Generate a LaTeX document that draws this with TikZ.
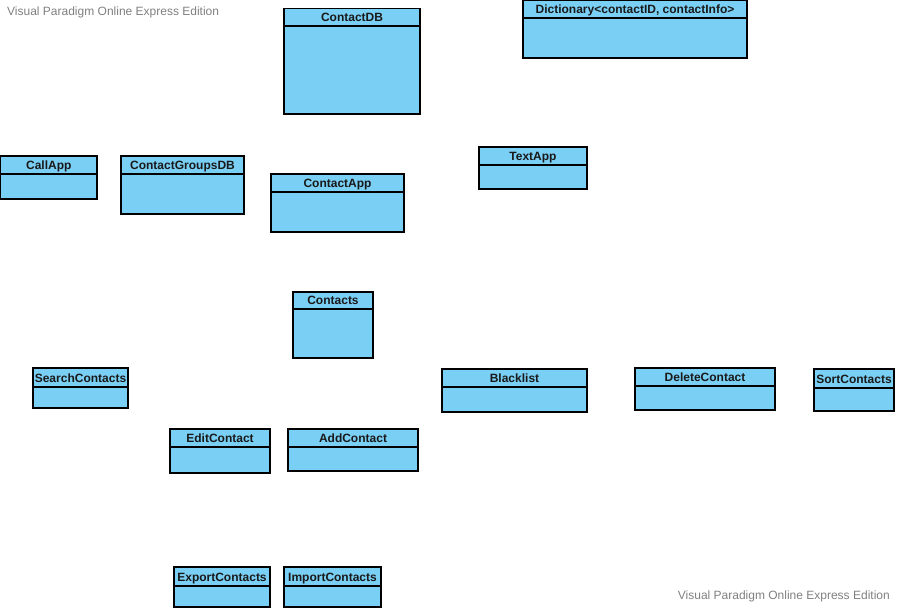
\documentclass[tikz,border=0pt]{standalone}
\usepackage{fontspec}
\setmainfont{Liberation Sans}
\definecolor{classfill}{RGB}{122,207,245}
\definecolor{stamp}{RGB}{128,128,128}
\definecolor{titleink}{RGB}{25,25,25}
\tikzset{
  classframe/.style={draw=black, line width=1.15pt, fill=classfill},
  classrule/.style={draw=black, line width=1.15pt},
  classtitle/.style={anchor=base, inner sep=0pt, text=titleink,
    font=\bfseries\fontsize{12}{14}\selectfont},
  stamptext/.style={inner sep=0pt, text=stamp, font=\fontsize{12}{14}\selectfont}
}
% \umlclassbox{name}{left}{top}{right}{header line}{bottom}{title}
\newcommand\umlclassbox[7]{%
  \path[classframe] (#2,#3) rectangle (#4,#6);
  \draw[classrule] (#2,#5) -- (#4,#5);
  \node[classtitle] (#1) at ({(#2+#4)/2},{#5-4.5}) {#7};
}
\begin{document}
\begin{tikzpicture}[x=1pt,y=-1pt]
\useasboundingbox (0,0) rectangle (897,610);

\umlclassbox{contactdb}{284}{8.5}{420}{26}{114}{ContactDB}
\umlclassbox{dictionary}{523}{0.6}{747}{18}{58}{Dictionary<contactID, contactInfo>}
\umlclassbox{callapp}{0.6}{156}{97}{174}{199}{CallApp}
\umlclassbox{groupsdb}{121}{156}{244}{174}{214}{ContactGroupsDB}
\umlclassbox{contactapp}{271}{174}{404}{192}{232}{ContactApp}
\umlclassbox{textapp}{479}{147}{587}{165}{189}{TextApp}
\umlclassbox{contacts}{293}{292}{373}{309}{358}{Contacts}
\umlclassbox{search}{33}{368}{128}{387}{408}{SearchContacts}
\umlclassbox{blacklist}{442}{369}{587}{387}{412}{Blacklist}
\umlclassbox{delete}{635}{368}{775}{386}{410}{DeleteContact}
\umlclassbox{sort}{814}{369}{894}{388}{411}{SortContacts}
\umlclassbox{edit}{170}{429}{270}{447}{473}{EditContact}
\umlclassbox{add}{288}{429}{418}{447}{471}{AddContact}
\umlclassbox{export}{174}{567}{270}{586}{607}{ExportContacts}
\umlclassbox{import}{284}{567}{381}{586}{607}{ImportContacts}

\node[stamptext, anchor=base west] (stamptop) at (7,15.7) {Visual Paradigm Online Express Edition};
\node[stamptext, anchor=base east] (stampbottom) at (890,599) {Visual Paradigm Online Express Edition};
\end{tikzpicture}
\end{document}
